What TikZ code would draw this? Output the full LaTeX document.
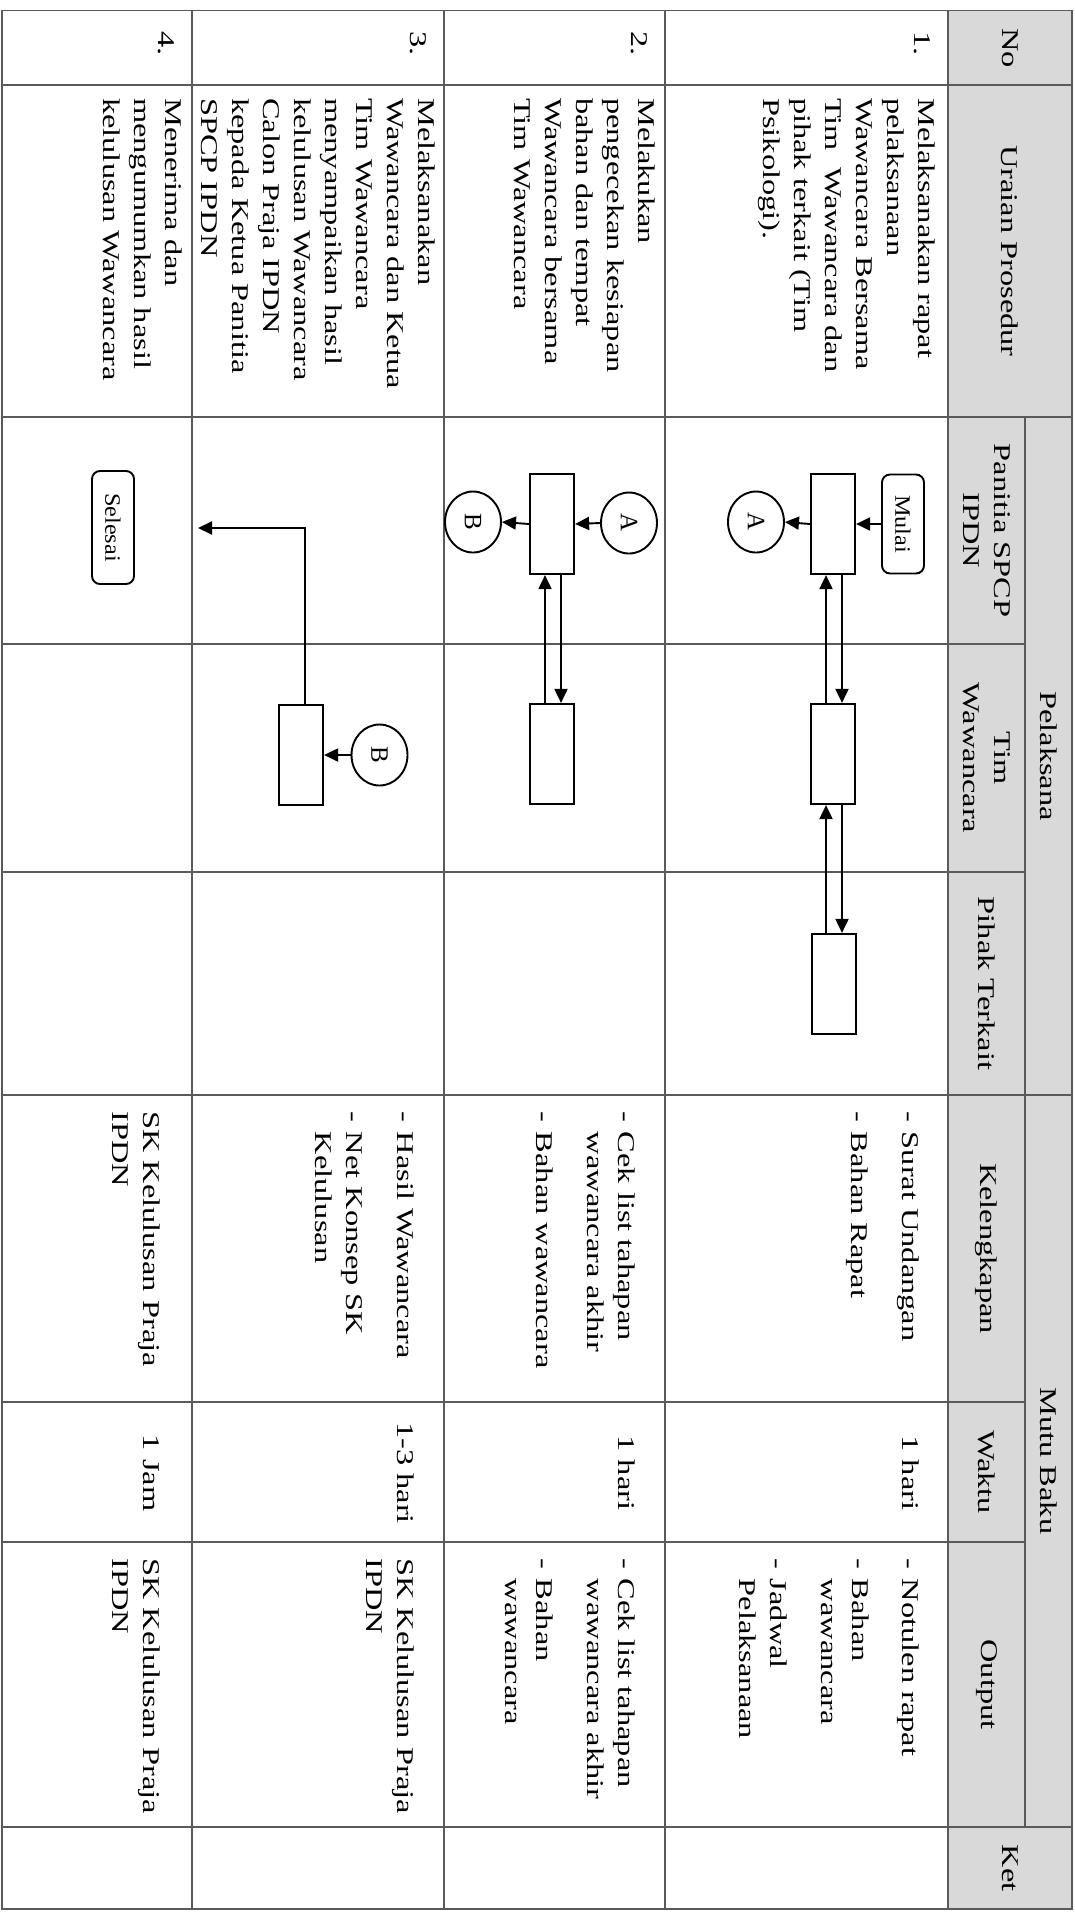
\documentclass[tikz,border=0pt]{standalone}
\usepackage{fontspec}
\setmainfont{Liberation Serif}
\usepackage{graphicx}
\usetikzlibrary{arrows.meta,shapes.geometric}
\definecolor{hdr}{RGB}{217,217,217}
\definecolor{gridc}{RGB}{90,90,90}
\newcommand\bodyfont{\fontsize{24}{31}\selectfont}
\newcommand\flowfont{\fontsize{22}{26}\selectfont}
\newcommand\sx[1]{\scalebox{1.35}[1]{#1}}
\newcommand\dsh{\makebox[15.3pt][l]{-}}
\newcommand\ind{\hspace*{15.3pt}}
\newcommand\cell[1]{\sx{\begin{tabular}[t]{@{}l@{}}#1\end{tabular}}}
\begin{document}
\begin{tikzpicture}[x=1pt,y=-1pt,
  txt/.style={rotate=-90, inner sep=0pt, anchor=base west, font=\bodyfont},
  ctxt/.style={rotate=-90, inner sep=0pt, anchor=base, font=\bodyfont},
  hd/.style={rotate=-90, inner sep=0pt, anchor=center, align=center, font=\bodyfont},
  gridl/.style={draw=gridc, line width=1.1pt},
  proc/.style={draw, line width=2.2pt, fill=white, inner sep=0pt, minimum width=44pt, minimum height=100pt},
  term/.style={draw, line width=1.9pt, rounded corners=8pt, fill=white, inner sep=0pt, font=\flowfont},
  conn/.style={ellipse, draw, line width=1.9pt, fill=white, inner sep=0pt, minimum width=56pt, minimum height=61pt, font=\fontsize{25}{28}\selectfont},
  arr/.style={line width=1.9pt, -{Triangle[length=14pt,width=13pt]}}]
\useasboundingbox (0,0) rectangle (1075,1915);
% table
\fill[hdr] (948,10.7) rectangle (1072,1909);
\foreach \x in {192,444,665,948} \draw[gridl] (\x,10.7) -- (\x,1909);
\draw[gridl] (1025,417) -- (1025,1827);
\foreach \y in {85,417,1095,1827} \draw[gridl] (2,\y) -- (1072,\y);
\foreach \y in {644,872,1402,1542} \draw[gridl] (2,\y) -- (1025,\y);
\draw[draw=gridc, line width=1.4pt] (2,10.7) rectangle (1072,1909);
% headers
\node[hd] (hno) at (1010,48) {\sx{No}};
\node[hd] (hur) at (1010,251) {\sx{Uraian Prosedur}};
\node[hd] (hpel) at (1048.5,756) {\sx{Pelaksana}};
\node[hd] (hpan) at (986.5,530.5) {\sx{Panitia SPCP}\\\sx{IPDN}};
\node[hd] (htim) at (986.5,758) {\sx{Tim}\\\sx{Wawancara}};
\node[hd] (hpih) at (986.5,983.5) {\sx{Pihak Terkait}};
\node[hd] (hmb) at (1048.5,1461) {\sx{Mutu Baku}};
\node[hd] (hkel) at (986.5,1248.5) {\sx{Kelengkapan}};
\node[hd] (hwak) at (986.5,1472) {\sx{Waktu}};
\node[hd] (hout) at (986.5,1684.5) {\sx{Output}};
\node[hd] (hket) at (1010,1868) {\sx{Ket}};
% numbers
\node[txt] (no1) at (914,31) {\sx{1.}};
\node[txt] (no2) at (631,31) {\sx{2.}};
\node[txt] (no3) at (410,31) {\sx{3.}};
\node[txt] (no4) at (158,31) {\sx{4.}};
% uraian
\node[txt] (u1) at (918,98) {\cell{Melaksanakan rapat\\pelaksanaan\\Wawancara Bersama\\Tim~ Wawancara dan\\pihak terkait (Tim\\Psikologi).}};
\node[txt] (u2) at (638,98) {\cell{Melakukan\\pengecekan kesiapan\\bahan dan tempat\\Wawancara bersama\\Tim Wawancara}};
\node[txt] (u3) at (418,98) {\cell{Melaksanakan\\Wawancara dan Ketua\\Tim Wawancara\\menyampaikan hasil\\kelulusan Wawancara\\Calon Praja IPDN\\kepada Ketua Panitia\\SPCP IPDN}};
\node[txt] (u4) at (165,98) {\cell{Menerima dan\\mengumumkan hasil\\kelulusan Wawancara}};
% kelengkapan
\node[txt] (k1t) at (902,1111) {\cell{\dsh Surat Undangan\\[20pt]\dsh Bahan Rapat}};
\node[txt] (k2t) at (618,1111) {\cell{\dsh Cek list tahapan\\\ind wawancara akhir\\[20pt]\dsh Bahan wawancara}};
\node[txt] (k3t) at (397,1111) {\cell{\dsh Hasil Wawancara\\[20pt]\dsh Net Konsep SK\\\ind Kelulusan}};
\node[txt] (k4t) at (143,1111) {\cell{SK Kelulusan Praja\\IPDN}};
% waktu
\node[ctxt] (w1) at (902,1473) {\sx{1 hari}};
\node[ctxt] (w2) at (618,1473) {\sx{1 hari}};
\node[ctxt] (w3) at (397,1473) {\sx{1-3 hari}};
\node[ctxt] (w4) at (143,1473) {\sx{1 Jam}};
% output
\node[txt] (o1) at (902,1558) {\cell{\dsh Notulen rapat\\[19pt]\dsh Bahan\\\ind wawancara\\[20pt]\dsh Jadwal\\\ind Pelaksanaan}};
\node[txt] (o2) at (618,1558) {\cell{\dsh Cek list tahapan\\\ind wawancara akhir\\[20pt]\dsh Bahan\\\ind wawancara}};
\node[txt] (o3) at (397,1558) {\cell{SK Kelulusan Praja\\IPDN}};
\node[txt] (o4) at (143,1558) {\cell{SK Kelulusan Praja\\IPDN}};
% flowchart row 1
\node[term, minimum width=42pt, minimum height=99pt] (mulai) at (903,524) {\rotatebox{-90}{\scalebox{1.1}[1]{Mulai}}};
\node[proc] (p1) at (833,524) {};
\node[conn] (cA1) at (756,522) {\rotatebox{-90}{A}};
\node[proc] (t1) at (833,754) {};
\node[proc] (k1) at (834,984) {};
\draw[arr] (mulai.west) -- (p1.east);
\draw[arr] (p1.west) -- (cA1.east);
\draw[arr] ([xshift=9pt]p1.south) -- ([xshift=9pt]p1.south |- t1.north);
\draw[arr] ([xshift=-7pt]t1.north) -- ([xshift=-7pt]t1.north |- p1.south);
\draw[arr] ([xshift=9pt]t1.south) -- ([xshift=9pt]t1.south |- k1.north);
\draw[arr] ([xshift=-7pt]t1.south |- k1.north) -- ([xshift=-7pt]t1.south);
% row 2
\node[conn] (cA2) at (629,523) {\rotatebox{-90}{A}};
\node[proc] (p2) at (552,524) {};
\node[conn] (cB2) at (473,522) {\rotatebox{-90}{B}};
\node[proc] (t2) at (552,754) {};
\draw[arr] (cA2.west) -- (p2.east);
\draw[arr] (p2.west) -- (cB2.east);
\draw[arr] ([xshift=9pt]p2.south) -- ([xshift=9pt]p2.south |- t2.north);
\draw[arr] ([xshift=-7pt]t2.north) -- ([xshift=-7pt]t2.north |- p2.south);
% row 3
\node[conn] (cB3) at (379.5,755) {\rotatebox{-90}{B}};
\node[proc] (t3) at (301,755) {};
\coordinate (e3) at (198,528);
\draw[arr] (cB3.west) -- (t3.east);
\draw[arr] ([xshift=4pt]t3.north) |- (e3);
% row 4
\node[term, minimum width=42pt, minimum height=113pt] (selesai) at (113,527.5) {\rotatebox{-90}{\scalebox{1.1}[1]{Selesai}}};
\end{tikzpicture}
\end{document}
